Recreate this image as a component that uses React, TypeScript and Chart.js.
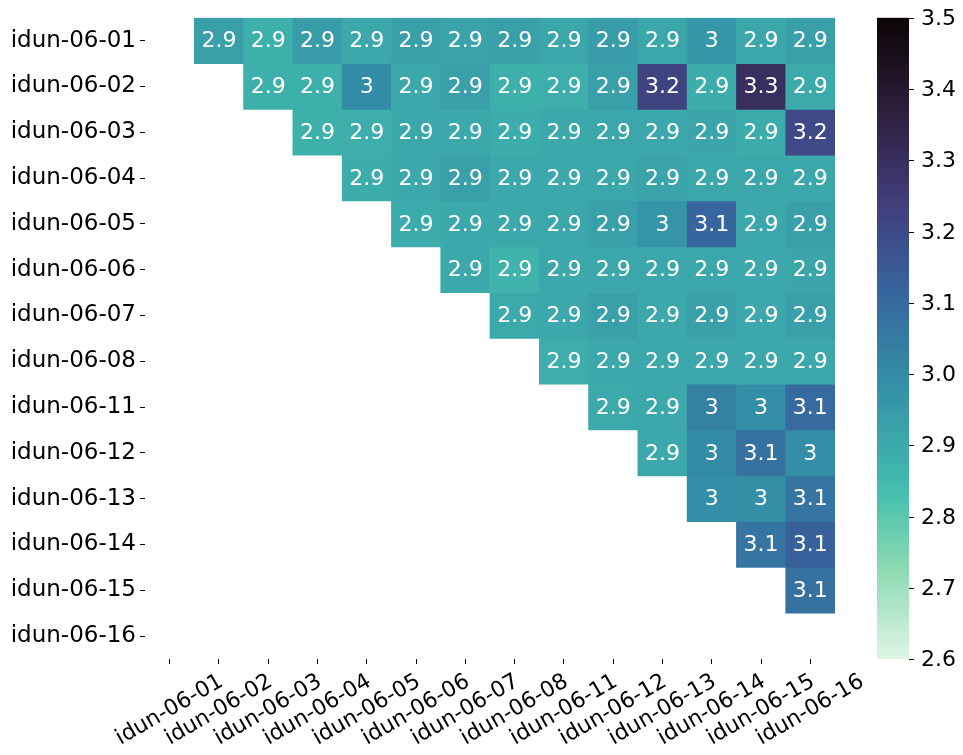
import React, { useEffect, useRef } from "react";
import { Chart, registerables } from "chart.js";

Chart.register(...registerables);

// ---- data ----
const rowLabels = [
  "idun-06-01", "idun-06-02", "idun-06-03", "idun-06-04", "idun-06-05", "idun-06-06", "idun-06-07",
  "idun-06-08", "idun-06-11", "idun-06-12", "idun-06-13", "idun-06-14", "idun-06-15", "idun-06-16",
];
const colLabels = [
  "idun-06-01", "idun-06-02", "idun-06-03", "idun-06-04", "idun-06-05", "idun-06-06", "idun-06-07",
  "idun-06-08", "idun-06-11", "idun-06-12", "idun-06-13", "idun-06-14", "idun-06-15", "idun-06-16",
];

const _ = null;
const row01 = [_, 2.935, 2.88, 2.94, 2.905, 2.935, 2.92, 2.935, 2.91, 2.94, 2.91, 2.96, 2.91, 2.93];
const row02 = [_, _, 2.88, 2.88, 3.0, 2.905, 2.93, 2.88, 2.885, 2.93, 3.22, 2.89, 3.3, 2.9];
const row03 = [_, _, _, 2.88, 2.885, 2.91, 2.905, 2.89, 2.905, 2.91, 2.905, 2.915, 2.895, 3.205];
const row04 = [_, _, _, _, 2.89, 2.905, 2.935, 2.905, 2.905, 2.91, 2.92, 2.91, 2.91, 2.905];
const row05 = [_, _, _, _, _, 2.895, 2.905, 2.905, 2.91, 2.93, 2.97, 3.11, 2.905, 2.93];
const row06 = [_, _, _, _, _, _, 2.905, 2.87, 2.905, 2.905, 2.91, 2.91, 2.905, 2.915];
const row07 = [_, _, _, _, _, _, _, 2.9, 2.905, 2.93, 2.905, 2.93, 2.905, 2.93];
const row08 = [_, _, _, _, _, _, _, _, 2.885, 2.905, 2.905, 2.905, 2.905, 2.905];
const row11 = [_, _, _, _, _, _, _, _, _, 2.9, 2.905, 3.03, 2.99, 3.1];
const row12 = [_, _, _, _, _, _, _, _, _, _, 2.905, 3.0, 3.08, 2.99];
const row13 = [_, _, _, _, _, _, _, _, _, _, _, 2.99, 2.985, 3.07];
const row14 = [_, _, _, _, _, _, _, _, _, _, _, _, 3.07, 3.13];
const row15 = [_, _, _, _, _, _, _, _, _, _, _, _, _, 3.08];
const row16 = [_, _, _, _, _, _, _, _, _, _, _, _, _, _];

const rows: (number | null)[][] = [
  row01, row02, row03, row04, row05, row06, row07, row08, row11, row12, row13, row14, row15, row16,
];

const vmin = 2.6;
const vmax = 3.5;
const cbTicks = [2.6, 2.7, 2.8, 2.9, 3.0, 3.1, 3.2, 3.3, 3.4, 3.5];

// mako colormap stops (position 0 = dark end)
const makoStops: [number, string][] = [
  [0.0, "#0b0405"],
  [0.143, "#2e1e3b"],
  [0.286, "#413d7b"],
  [0.429, "#37659e"],
  [0.5, "#357ba2"],
  [0.571, "#348fa7"],
  [0.714, "#40b7ad"],
  [0.75, "#49c1ad"],
  [0.857, "#8bdab2"],
  [1.0, "#def5e5"],
];

function hexToRgb(h: string) {
  return [parseInt(h.slice(1, 3), 16), parseInt(h.slice(3, 5), 16), parseInt(h.slice(5, 7), 16)];
}

function cmap(v: number): string {
  let t = (v - vmin) / (vmax - vmin);
  t = Math.max(0, Math.min(1, t));
  const p = 1 - t; // mako_r
  for (let i = 0; i < makoStops.length - 1; i++) {
    const [p0, c0] = makoStops[i];
    const [p1, c1] = makoStops[i + 1];
    if (p >= p0 && p <= p1) {
      const f = (p - p0) / (p1 - p0);
      const a = hexToRgb(c0);
      const b = hexToRgb(c1);
      const c = a.map((x, k) => Math.round(x + (b[k] - x) * f));
      return `rgb(${c[0]},${c[1]},${c[2]})`;
    }
  }
  return makoStops[makoStops.length - 1][1];
}

function fmt(v: number): string {
  return String(parseFloat(v.toPrecision(2)));
}

const FONT = "DejaVu Sans";

export default function App() {
  const ref = useRef<HTMLCanvasElement | null>(null);

  useEffect(() => {
    const canvas = ref.current;
    if (!canvas) return;

    const datasets = rows.map((vals, r) => ({
      label: rowLabels[r],
      data: vals.map((v) => (v == null ? null : [r - 0.5, r + 0.5])),
      backgroundColor: vals.map((v) => (v == null ? "rgba(0,0,0,0)" : cmap(v))),
      borderWidth: 0,
      grouped: false,
      barPercentage: 1,
      categoryPercentage: 1,
    }));

    const overlay = {
      id: "overlay",
      afterDatasetsDraw(chart: any) {
        const ctx = chart.ctx;
        ctx.save();
        ctx.fillStyle = "#ffffff";
        ctx.font = `22px '${FONT}'`;
        ctx.textAlign = "center";
        ctx.textBaseline = "middle";
        chart.data.datasets.forEach((ds: any, di: number) => {
          const meta = chart.getDatasetMeta(di);
          meta.data.forEach((el: any, i: number) => {
            const v = rows[di][i];
            if (v == null) return;
            const cy = (el.y + el.base) / 2;
            ctx.fillText(fmt(v), el.x, cy + 1);
          });
        });
        ctx.restore();
      },
      afterDraw(chart: any) {
        const ctx = chart.ctx;
        const area = chart.chartArea;
        const xs = chart.scales.x;
        const cb = chart.scales.cb;
        ctx.save();
        // x tick labels, rotated 30deg, centered on tick
        ctx.font = `22px '${FONT}'`;
        ctx.fillStyle = "#000";
        ctx.textAlign = "center";
        ctx.textBaseline = "middle";
        const ang = (30 * Math.PI) / 180;
        colLabels.forEach((lab, i) => {
          const x = xs.getPixelForValue(i);
          const w = ctx.measureText(lab).width;
          const h = 22 * 1.16;
          const H = w * Math.sin(ang) + h * Math.cos(ang);
          const top = area.bottom + 5 + 5;
          ctx.save();
          ctx.translate(x, top + H / 2);
          ctx.rotate(-ang);
          ctx.fillText(lab, 0, 0);
          ctx.restore();
        });

        // colorbar
        const x0 = area.right + 42;
        const x1 = x0 + 32;
        const yTop = cb.getPixelForValue(vmax);
        const yBot = cb.getPixelForValue(vmin);
        const grad = ctx.createLinearGradient(0, yBot, 0, yTop);
        const n = 60;
        for (let k = 0; k <= n; k++) {
          grad.addColorStop(k / n, cmap(vmin + ((vmax - vmin) * k) / n));
        }
        ctx.fillStyle = grad;
        ctx.fillRect(x0, yTop, x1 - x0, yBot - yTop);

        ctx.strokeStyle = "#000";
        ctx.lineWidth = 1;
        ctx.fillStyle = "#000";
        ctx.textAlign = "left";
        ctx.textBaseline = "middle";
        ctx.font = `22px '${FONT}'`;
        cbTicks.forEach((v) => {
          const y = Math.round(cb.getPixelForValue(v)) + 0.5;
          ctx.beginPath();
          ctx.moveTo(x1, y);
          ctx.lineTo(x1 + 5, y);
          ctx.stroke();
          ctx.fillText(v.toFixed(1), x1 + 12, y + 1);
        });
        ctx.restore();
      },
    };

    const chart = new Chart(canvas, {
      type: "bar",
      data: { labels: colLabels, datasets: datasets as any },
      options: {
        responsive: false,
        animation: false,
        devicePixelRatio: 1,
        layout: { padding: { top: 16, right: 128, left: 0, bottom: 0 } },
        plugins: { legend: { display: false }, tooltip: { enabled: false } },
        scales: {
          x: {
            type: "category",
            offset: true,
            grid: { offset: false, drawOnChartArea: false, drawTicks: true, tickLength: 5, color: "#000" },
            border: { display: false },
            ticks: { display: false },
            afterFit: (s: any) => {
              s.height = 96;
            },
          },
          y: {
            type: "linear",
            reverse: true,
            min: -0.5,
            max: 13.5,
            afterBuildTicks: (s: any) => {
              s.ticks = rowLabels.map((_l, i) => ({ value: i }));
            },
            ticks: {
              autoSkip: false,
              padding: 4,
              color: "#000",
              font: { family: FONT, size: 23 },
              callback: (v: any) => rowLabels[v as number],
            },
            grid: { drawOnChartArea: false, drawTicks: true, tickLength: 5, color: "#000" },
            border: { display: false },
            afterFit: (s: any) => {
              s.width = 145;
            },
          },
          cb: {
            type: "linear",
            display: false,
            position: "right",
            min: vmin,
            max: vmax,
          },
        },
      } as any,
      plugins: [overlay],
    });

    return () => chart.destroy();
  }, []);

  return (
    <div style={{ position: "fixed", left: 0, top: 0, width: 963, height: 755, background: "#fff" }}>
      <canvas ref={ref} width={963} height={755} style={{ display: "block" }} />
    </div>
  );
}
